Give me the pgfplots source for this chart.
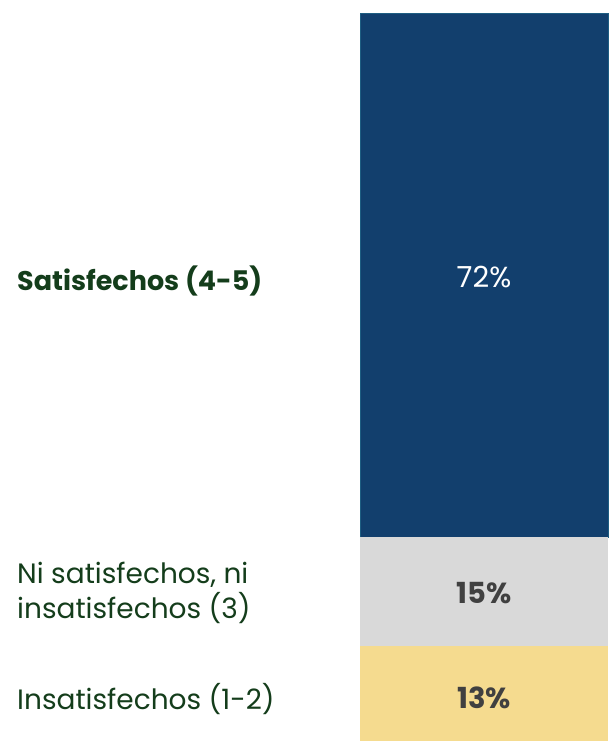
\documentclass[border=0pt]{standalone}
\usepackage{pgfplots}
\pgfplotsset{compat=1.18}
\usepackage{fontspec}
\setmainfont{Poppins}
\definecolor{barblue}{HTML}{123F6D}
\definecolor{bluedge}{HTML}{1E5E82}
\definecolor{bargray}{HTML}{D9D9D9}
\definecolor{baryellow}{HTML}{F5DB8F}
\definecolor{labgreen}{HTML}{143D1B}
\definecolor{valgray}{HTML}{404040}
\begin{document}
\begin{tikzpicture}
\useasboundingbox (0,0) rectangle (608pt,741pt);
\begin{axis}[
  at={(360pt,0pt)}, anchor=south west,
  scale only axis, width=248pt, height=728pt,
  ybar stacked, bar width=248pt,
  xmin=-0.5, xmax=0.5, ymin=0, ymax=100,
  hide axis, clip=false,
]
\addplot[fill=baryellow, draw=none] coordinates {(0,13)};
\addplot[fill=bargray, draw=none] coordinates {(0,15)};
\addplot[fill=barblue, draw=bluedge, line width=0.8pt] coordinates {(0,72)};
\coordinate (c1) at (axis cs:0,6.5);
\coordinate (c2) at (axis cs:0,20.5);
\coordinate (c3) at (axis cs:0,64);
\end{axis}
\node[font=\fontsize{29}{34}\selectfont\bfseries, text=valgray] at ([yshift=-4pt]c1) {13\%};
\node[font=\fontsize{29}{34}\selectfont\bfseries, text=valgray] at ([yshift=-1pt]c2) {15\%};
\node[font=\fontsize{29}{34}\selectfont, text=white] at ([yshift=-2pt]c3) {72\%};
\node[anchor=west, font=\fontsize{28}{34}\selectfont, text=labgreen, inner sep=0pt] at ([yshift=-5pt]17pt,0 |- c1) {Insatisfechos (1-2)};
\node[anchor=west, align=left, font=\fontsize{28}{35}\selectfont, text=labgreen, inner sep=0pt] at ([yshift=-1pt]17pt,0 |- c2) {Ni satisfechos, ni\\insatisfechos (3)};
\node[anchor=west, font=\fontsize{27}{32}\selectfont\bfseries, text=labgreen, inner sep=0pt] at ([yshift=-6pt]17pt,0 |- c3) {Satisfechos (4-5)};
\end{tikzpicture}
\end{document}
